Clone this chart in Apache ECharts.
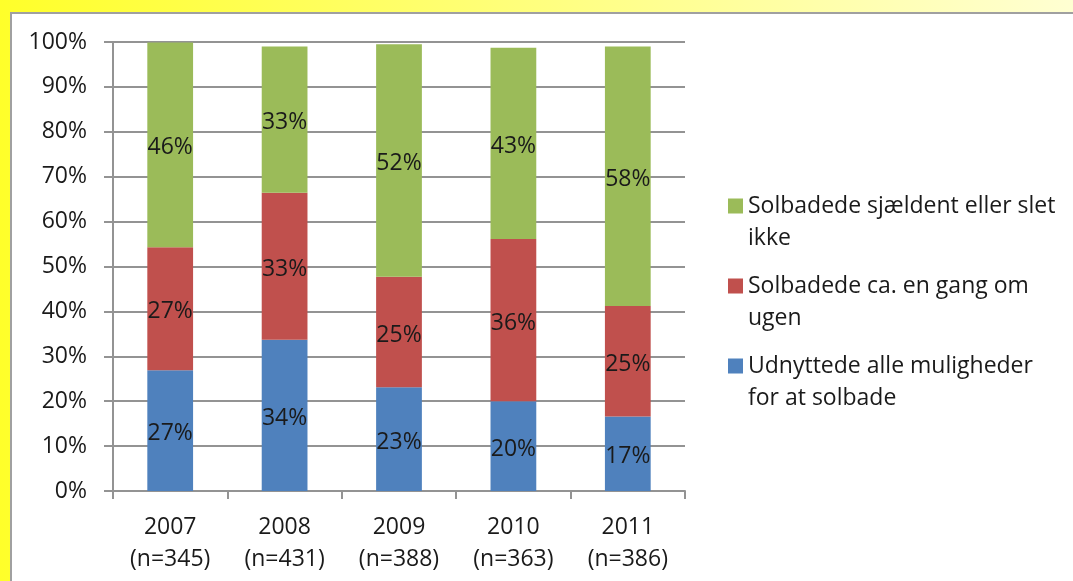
<!DOCTYPE html>
<html>
<head>
<meta charset="utf-8">
<script src="https://cdn.jsdelivr.net/npm/echarts@6/dist/echarts.min.js"></script>
<style>
  html, body {
    margin: 0;
    width: 1073px;
    height: 581px;
    overflow: hidden;
    background: linear-gradient(to right, #ffff2a, #ffffd2);
  }
  .panel {
    position: absolute;
    left: 10px;
    top: 12px;
    width: 1070px;
    height: 580px;
    background: #ffffff;
    border: 2px solid #a0a0a0;
  }
  #chart {
    position: absolute;
    left: 0;
    top: 0;
    width: 1073px;
    height: 581px;
  }
</style>
</head>
<body>
<div class="panel"></div>
<div id="chart"></div>
<script>
const categories = ["2007\n(n=345)", "2008\n(n=431)", "2009\n(n=388)", "2010\n(n=363)", "2011\n(n=386)"];
const seriesNames = [
  "Udnyttede alle muligheder for at solbade",
  "Solbadede ca. en gang om ugen",
  "Solbadede sjældent eller slet ikke"
];
// legend text broken into lines as in the original
const legendText = {
  "Udnyttede alle muligheder for at solbade": "Udnyttede alle muligheder\nfor at solbade",
  "Solbadede ca. en gang om ugen": "Solbadede ca. en gang om\nugen",
  "Solbadede sjældent eller slet ikke": "Solbadede sjældent eller slet\nikke"
};
const allOpportunities = [26.9, 33.7, 23.1, 20.0, 16.6];
const oncePerWeek = [27.4, 32.7, 24.6, 36.1, 24.6];
const rarelyOrNever = [45.6, 32.6, 51.8, 42.6, 57.8];
const colors = ["#4f81bd", "#c0504d", "#9bbb59"];

const FONT = "'Open Sans', sans-serif";
const textColor = "#1a1a1a";
const gridColor = "#939393";

// square on the first text line; the empty point below stretches the box
// so the two-line text is centred lower and the square sits on line one
const legendIcon = "path://M0,0H15V15H0Z M0,47L0.01,47";

const chart = echarts.init(document.getElementById("chart"));

function barSeries(name, data, color) {
  return {
    name: name,
    type: "bar",
    stack: "total",
    data: data,
    barCategoryGap: "60%",
    itemStyle: { color: color },
    label: {
      show: true,
      position: "inside",
      offset: [0, 3],
      color: textColor,
      fontFamily: FONT,
      fontSize: 23,
      formatter: (p) => Math.round(p.value) + "%"
    }
  };
}

chart.setOption({
  animation: false,
  textStyle: { fontFamily: FONT },
  grid: { left: 113, top: 42, width: 572, height: 449 },
  legend: {
    orient: "vertical",
    left: 728,
    top: 190,
    padding: 0,
    itemWidth: 15,
    itemHeight: 47,
    itemGap: 16,
    icon: legendIcon,
    data: [seriesNames[2], seriesNames[1], seriesNames[0]],
    formatter: (name) => legendText[name],
    textStyle: {
      color: textColor,
      fontFamily: FONT,
      fontSize: 23,
      lineHeight: 32
    }
  },
  xAxis: {
    type: "category",
    data: categories,
    boundaryGap: true,
    axisLine: { lineStyle: { color: gridColor, width: 2 } },
    axisTick: { show: true, length: 8, lineStyle: { color: gridColor, width: 2 } },
    axisLabel: {
      color: textColor,
      fontFamily: FONT,
      fontSize: 23,
      lineHeight: 32,
      margin: 20
    }
  },
  yAxis: {
    type: "value",
    min: 0,
    max: 100,
    interval: 10,
    axisLine: { show: true, lineStyle: { color: gridColor, width: 2 } },
    axisTick: { show: true, length: 9, lineStyle: { color: gridColor, width: 2 } },
    splitLine: { lineStyle: { color: gridColor, width: 2 } },
    axisLabel: {
      color: textColor,
      fontFamily: FONT,
      fontSize: 23,
      margin: 26,
      formatter: "{value}%"
    }
  },
  series: [
    barSeries(seriesNames[0], allOpportunities, colors[0]),
    barSeries(seriesNames[1], oncePerWeek, colors[1]),
    barSeries(seriesNames[2], rarelyOrNever, colors[2])
  ]
});
</script>
</body>
</html>
